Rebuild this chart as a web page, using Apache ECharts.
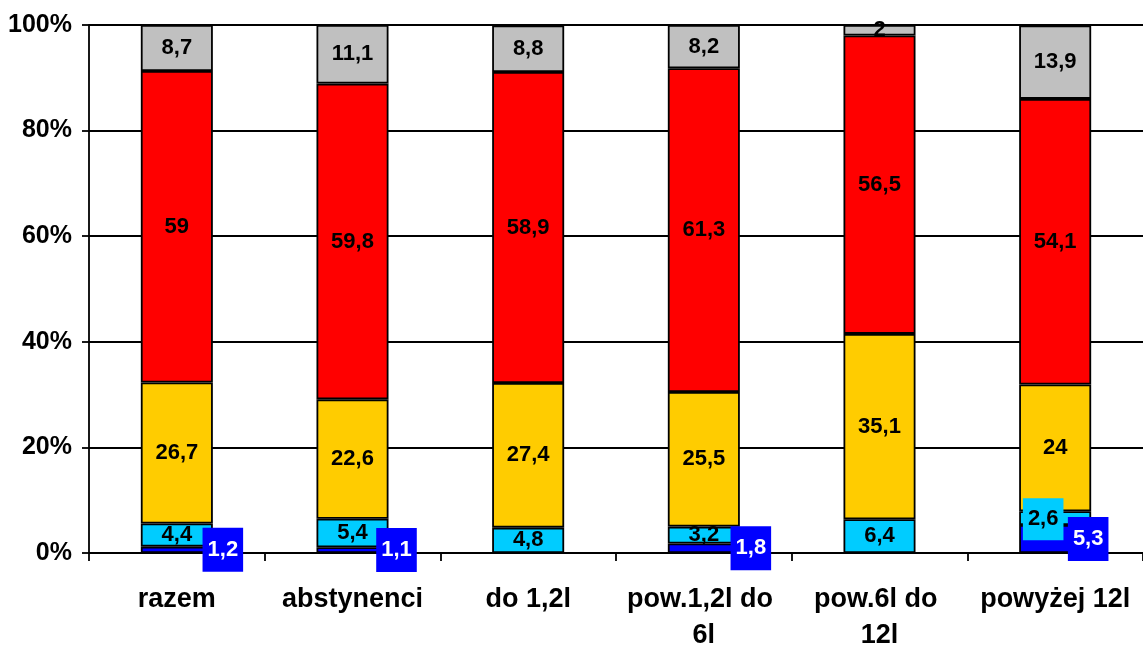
<!DOCTYPE html>
<html>
<head>
<meta charset="utf-8">
<script src="https://cdn.jsdelivr.net/npm/echarts@6/dist/echarts.min.js"></script>
<style>html,body{margin:0;padding:0;background:#fff}#c{width:1143px;height:646px}</style>
</head>
<body>
<div id="c"></div>
<script>
const categories = ['razem', 'abstynenci', 'do 1,2l', 'pow.1,2l do 6l', 'pow.6l do 12l', 'powyżej 12l'];
const darkBlue = [1.2, 1.1, null, 1.8, null, 5.3];
const lightBlue = [4.4, 5.4, 4.8, 3.2, 6.4, 2.6];
const yellow = [26.7, 22.6, 27.4, 25.5, 35.1, 24];
const red = [59, 59.8, 58.9, 61.3, 56.5, 54.1];
const gray = [8.7, 11.1, 8.8, 8.2, 2, 13.9];
const yTicks = [0, 20, 40, 60, 80, 100];

const FONT = '"Liberation Sans", Arial, sans-serif';
const fmt = v => String(v).replace('.', ',');
const border = { borderColor: '#000', borderWidth: 1.8 };
const baseLabel = { show: true, position: 'inside', color: '#000', fontWeight: 'bold', fontSize: 22, fontFamily: FONT,
  formatter: p => p.value == null ? '' : fmt(p.value) };

const blueOffsets = [46, 44, 46, 47, 46, 33];
const darkBlueData = darkBlue.map((v, i) => v == null ? { value: null, label: { show: false } } :
  { value: v, label: { offset: [blueOffsets[i], 0] } });
const lightBlueData = lightBlue.map((v, i) => i === 5 ?
  { value: v, label: { backgroundColor: '#00CCFF', padding: [10, 5], offset: [-12, 1] } } : { value: v });

function mk(name, data, color, extraLabel) {
  return { name, type: 'bar', stack: 'a', barWidth: '41%', data,
    itemStyle: Object.assign({ color }, border),
    label: Object.assign({}, baseLabel, extraLabel || {}) };
}

const chart = echarts.init(document.getElementById('c'), null, { renderer: 'canvas' });
chart.setOption({
  animation: false,
  grid: { left: 89, right: 0, top: 25, bottom: 93, containLabel: false, outerBoundsMode: 'none' },
  xAxis: {
    type: 'category', data: categories,
    axisLine: { lineStyle: { color: '#000', width: 1.8 } },
    axisTick: { show: true, length: 8, lineStyle: { color: '#000', width: 1.8 } },
    axisLabel: { color: '#000', fontWeight: 'bold', fontSize: 27, fontFamily: FONT, margin: 29,
      width: 168, overflow: 'break', lineHeight: 36, interval: 0 }
  },
  yAxis: {
    type: 'value', min: yTicks[0], max: yTicks[yTicks.length - 1], interval: 20,
    axisLine: { show: true, lineStyle: { color: '#000', width: 1.8 } },
    axisTick: { show: true, length: 7, lineStyle: { color: '#000', width: 1.8 } },
    axisLabel: { color: '#000', fontWeight: 'bold', fontSize: 25, fontFamily: FONT, margin: 17, formatter: '{value}%' },
    splitLine: { show: true, lineStyle: { color: '#000', width: 1.8 } }
  },
  series: [
    mk('d', darkBlueData, '#0000FF', { backgroundColor: '#0000FF', color: '#fff', padding: [11, 5] }),
    mk('l', lightBlueData, '#00CCFF'),
    mk('y', yellow, '#FFCC00'),
    mk('r', red, '#FF0000'),
    mk('g', gray, '#C0C0C0')
  ]
});
</script>
</body>
</html>
